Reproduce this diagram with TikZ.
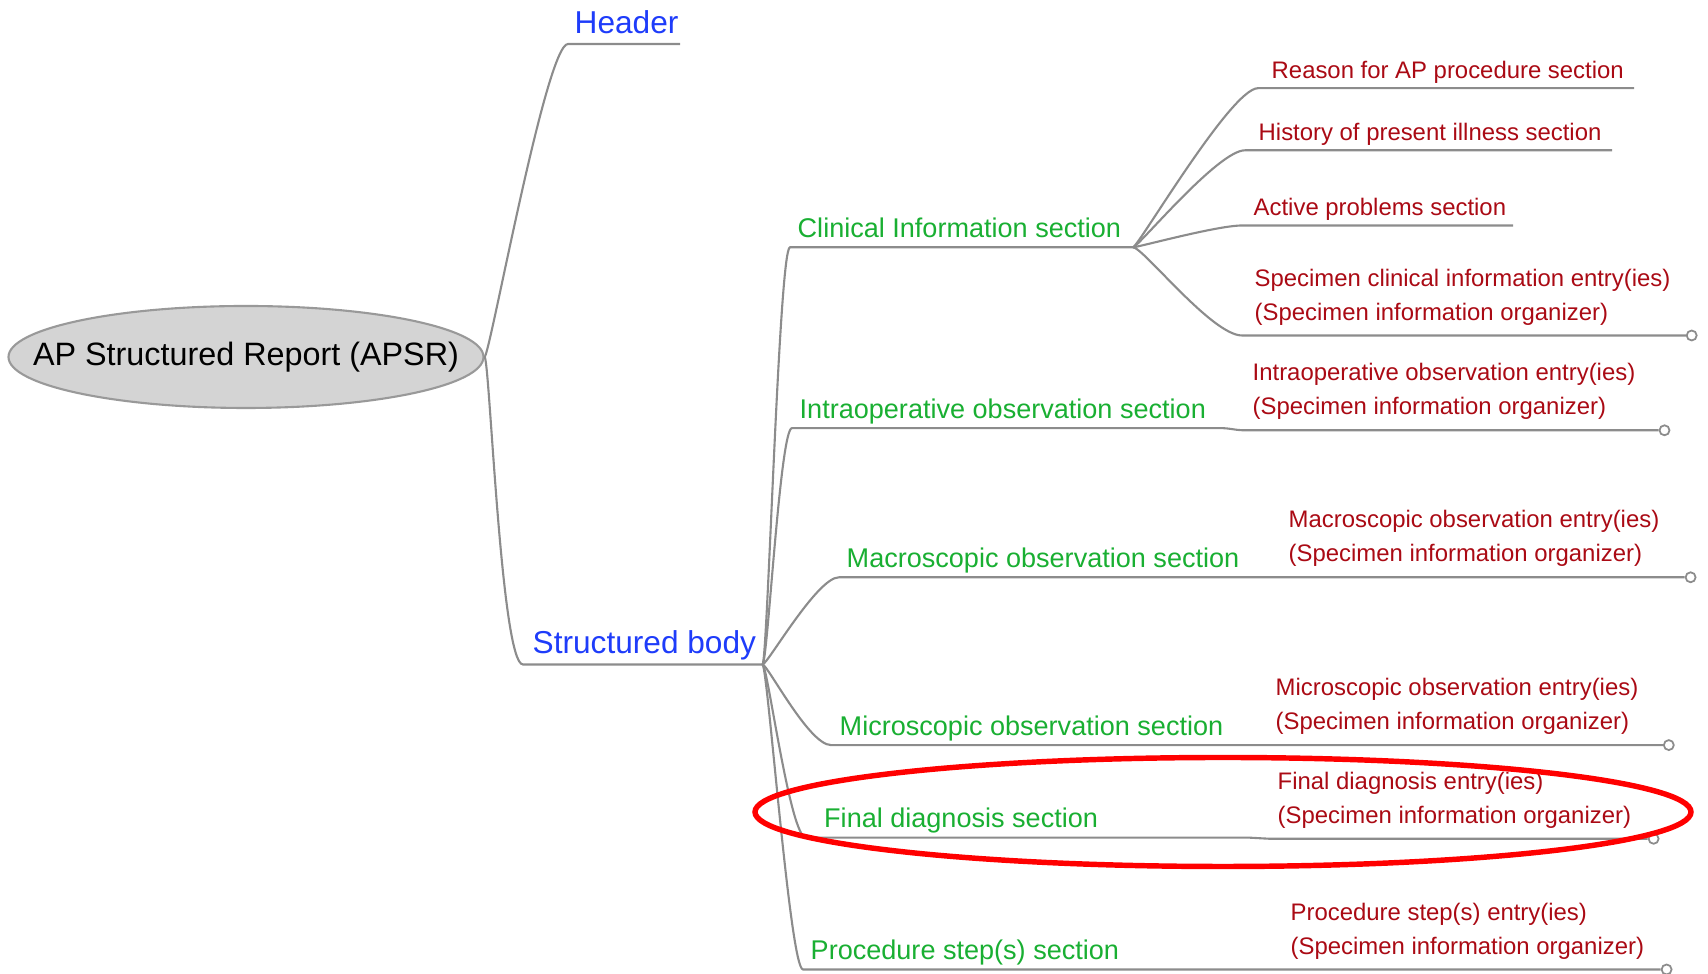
\documentclass[tikz,border=0pt]{standalone}
\usepackage{fontspec}
\setmainfont{Liberation Sans}
\usepackage{xcolor}
\usepackage{tikz}
\usetikzlibrary{shapes.geometric}

\definecolor{hdblue}{RGB}{30,60,250}
\definecolor{secgreen}{RGB}{25,175,50}
\definecolor{entred}{RGB}{170,10,20}
\definecolor{edgegray}{RGB}{140,140,140}

\begin{document}
\begin{tikzpicture}[
		edge/.style={edgegray,line width=0.6pt},
		rootnode/.style={ellipse,draw=gray!80,fill=black!17,line width=0.6pt,minimum width=4.75cm,minimum height=1.02cm,inner sep=0pt,font=\fontsize{9.2}{11}\selectfont},
		part/.style={text=hdblue,inner sep=0pt,anchor=base west,font=\fontsize{9}{11}\selectfont},
		sec/.style={text=secgreen,inner sep=0pt,anchor=base west,font=\fontsize{7.7}{9}\selectfont},
		ent/.style={text=entred,inner sep=0pt,align=left,font=\fontsize{6.8}{9.6}\selectfont},
		knob/.style={circle,draw=edgegray,fill=white,line width=0.5pt,minimum size=0.1cm,inner sep=0pt},
		ring/.style={red,line width=1.55pt}]
		\useasboundingbox (0,0) rectangle (17.08,-9.74);
		
		% root, header and body
		\node[rootnode] (root) at (2.46,-3.57) {\makebox[0pt]{\raisebox{-0.9pt}{AP Structured Report (APSR)}}};
		\coordinate (hdL) at (5.68,-0.44);
		\coordinate (hdR) at (6.80,-0.44);
		\coordinate (sbL) at (5.23,-6.645);
		\coordinate (sbR) at (7.625,-6.645);
		\node[part] (hd) at (5.74,-0.335) {Header};
		\node[part] (sb) at (5.32,-6.54) {Structured body};
		\draw[edge] (root.east) .. controls +(0.05,0) and +(-0.22,0) .. (hdL) -- (hdR);
		\draw[edge] (root.east) .. controls +(0.05,0) and +(-0.22,0) .. (sbL) -- (sbR);
		
		% sections
		\coordinate (clL) at (7.90,-2.473);
		\coordinate (clR) at (11.33,-2.473);
		\coordinate (ioL) at (7.92,-4.281);
		\coordinate (ioR) at (12.20,-4.281);
		\coordinate (ioS) at (12.45,-4.303);
		\coordinate (maL) at (8.39,-5.773);
		\coordinate (miL) at (8.31,-7.451);
		\coordinate (fdL) at (8.06,-8.377);
		\coordinate (fdR) at (12.50,-8.377);
		\coordinate (fdS) at (12.70,-8.388);
		\coordinate (psL) at (8.03,-9.695);
		\node[sec] (cl) at (7.97,-2.375) {Clinical Information section};
		\node[sec] (io) at (7.99,-4.183) {Intraoperative observation section};
		\node[sec] (ma) at (8.46,-5.675) {Macroscopic observation section};
		\node[sec] (mi) at (8.39,-7.353) {Microscopic observation section};
		\node[sec] (fd) at (8.235,-8.279) {Final diagnosis section};
		\node[sec] (ps) at (8.10,-9.597) {Procedure step(s) section};
		\node[knob] (ioK) at (16.645,-4.303) {};
		\node[knob] (maK) at (16.906,-5.773) {};
		\node[knob] (miK) at (16.688,-7.451) {};
		\node[knob] (fdK) at (16.536,-8.388) {};
		\node[knob] (psK) at (16.666,-9.695) {};
		\draw[edge] (sbR) .. controls +(0.05,0) and +(-0.11,0) .. (clL) -- (clR);
		\draw[edge] (sbR) .. controls +(0.05,0) and +(-0.12,0) .. (ioL) -- (ioR) .. controls +(0.1,0) and +(-0.1,0) .. (ioS) -- (ioK.west);
		\draw[edge] (sbR) .. controls +(0.05,0) and +(-0.22,0) .. (maL) -- (maK.west);
		\draw[edge] (sbR) .. controls +(0.05,0) and +(-0.22,0) .. (miL) -- (miK.west);
		\draw[edge] (sbR) .. controls +(0.05,0) and +(-0.16,0) .. (fdL) -- (fdR) .. controls +(0.1,0) and +(-0.1,0) .. (fdS) -- (fdK.west);
		\draw[edge] (sbR) .. controls +(0.05,0) and +(-0.13,0) .. (psL) -- (psK.west);
		
		% clinical information children
		\coordinate (rsL) at (12.58,-0.882);
		\coordinate (rsR) at (16.34,-0.882);
		\coordinate (hiL) at (12.45,-1.503);
		\coordinate (hiR) at (16.12,-1.503);
		\coordinate (apL) at (12.42,-2.255);
		\coordinate (apR) at (15.13,-2.255);
		\coordinate (scL) at (12.42,-3.355);
		\node[knob] (scK) at (16.917,-3.355) {};
		\node[ent,anchor=base west] (rs) at (12.71,-0.785) {Reason for AP procedure section};
		\node[ent,anchor=base west] (hi) at (12.58,-1.405) {History of present illness section};
		\node[ent,anchor=base west] (ap) at (12.53,-2.157) {Active problems section};
		\node[ent,anchor=south west] (sc) at (12.54,-3.26) {Specimen clinical information entry(ies)\\(Specimen information organizer)};
		\draw[edge] (clR) .. controls +(0.05,0) and +(-0.27,0) .. (rsL) -- (rsR);
		\draw[edge] (clR) .. controls +(0.05,0) and +(-0.27,0) .. (hiL) -- (hiR);
		\draw[edge] (clR) .. controls +(0.05,0) and +(-0.25,0) .. (apL) -- (apR);
		\draw[edge] (clR) .. controls +(0.1,0) and +(-0.3,0) .. (scL) -- (scK.west);
		
		% entries
		\node[ent,anchor=south west] (ioE) at (12.52,-4.20) {Intraoperative observation entry(ies)\\(Specimen information organizer)};
		\node[ent,anchor=south west] (maE) at (12.88,-5.67) {Macroscopic observation entry(ies)\\(Specimen information organizer)};
		\node[ent,anchor=south west] (miE) at (12.75,-7.35) {Microscopic observation entry(ies)\\(Specimen information organizer)};
		\node[ent,anchor=south west] (fdE) at (12.77,-8.29) {Final diagnosis entry(ies)\\(Specimen information organizer)};
		\node[ent,anchor=south west] (psE) at (12.90,-9.60) {Procedure step(s) entry(ies)\\(Specimen information organizer)};
		
		% highlight
		\draw[ring] (12.23,-8.12) ellipse (4.68 and 0.545);
	\end{tikzpicture}
\end{document}
